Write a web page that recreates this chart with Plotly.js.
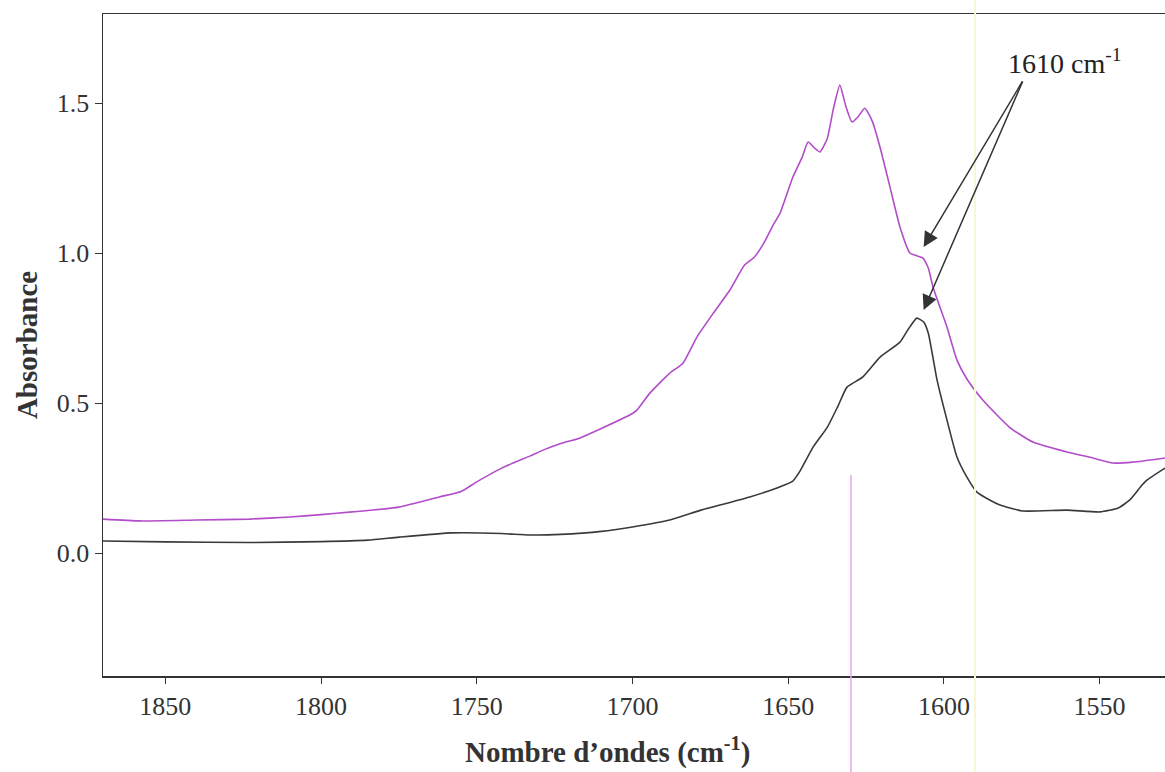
<!DOCTYPE html>
<html>
<head>
<meta charset="utf-8">
<script src="https://cdn.plot.ly/plotly-3.0.1.min.js"></script>
<style>html,body{margin:0;padding:0;background:#fff;}#chart{width:1165px;height:772px;}</style>
</head>
<body>
<div id="chart"></div>
<script>
// Wavenumbers (cm-1) and absorbance
const wnPurple = [1870, 1858, 1840, 1823, 1810, 1800, 1790, 1775, 1762, 1755, 1750, 1742, 1733, 1728.7, 1723, 1717, 1710, 1700, 1698.5, 1694.4, 1688, 1683.8, 1679.3, 1674, 1668.7, 1664, 1661, 1658, 1655, 1652.6, 1648.5, 1645.5, 1643.6, 1641.5, 1639.8, 1637.5, 1635.5, 1633.4, 1631.5, 1629.5, 1627.5, 1625.4, 1623, 1620.5, 1617.3, 1614.1, 1610.9, 1608.5, 1606.7, 1605, 1603.5, 1599, 1595.8, 1592.6, 1587.5, 1579, 1571.4, 1560.5, 1552.2, 1545.8, 1539.3, 1529];
const absPurple = [0.113, 0.107, 0.110, 0.113, 0.120, 0.128, 0.137, 0.153, 0.187, 0.205, 0.237, 0.283, 0.323, 0.343, 0.365, 0.383, 0.415, 0.465, 0.477, 0.533, 0.600, 0.633, 0.720, 0.800, 0.877, 0.960, 0.985, 1.030, 1.090, 1.133, 1.253, 1.320, 1.370, 1.350, 1.337, 1.380, 1.480, 1.560, 1.490, 1.437, 1.455, 1.483, 1.440, 1.353, 1.220, 1.087, 1.000, 0.990, 0.983, 0.950, 0.887, 0.753, 0.643, 0.580, 0.510, 0.420, 0.370, 0.337, 0.317, 0.300, 0.303, 0.317];

const wnBlack = [1870, 1850, 1823, 1800, 1785, 1775, 1758, 1742, 1733, 1723, 1710, 1700, 1688, 1678, 1670, 1662.3, 1653.6, 1648.5, 1646.2, 1642, 1637.4, 1634, 1631.1, 1626, 1620.5, 1614.1, 1611.5, 1608.7, 1606.5, 1605, 1602.2, 1599, 1595.8, 1592.6, 1589.4, 1585, 1582, 1574.6, 1560.5, 1549.9, 1544, 1540.3, 1536.5, 1534.8, 1529];
const absBlack = [0.040, 0.037, 0.035, 0.038, 0.043, 0.053, 0.067, 0.065, 0.060, 0.062, 0.072, 0.087, 0.110, 0.143, 0.165, 0.187, 0.217, 0.240, 0.273, 0.353, 0.420, 0.490, 0.553, 0.587, 0.653, 0.703, 0.745, 0.783, 0.770, 0.733, 0.577, 0.443, 0.320, 0.253, 0.203, 0.175, 0.160, 0.140, 0.143, 0.137, 0.150, 0.177, 0.225, 0.243, 0.283];

const xTicks = [1850, 1800, 1750, 1700, 1650, 1600, 1550];
const yTicks = [0.0, 0.5, 1.0, 1.5];
const peakLabel = '1610 cm<sup>-1</sup>';
const xTitle = 'Nombre d’ondes (cm<sup>-1</sup>)';
const yTitle = 'Absorbance';
const peakWn = 1606.5;
const peakAbsPurple = 1.02;
const peakAbsBlack = 0.81;

const serif = 'Liberation Serif, Times New Roman, serif';

const traces = [
  {x: wnPurple, y: absPurple, type: 'scatter', mode: 'lines', line: {color: '#b24cc8', width: 1.6, shape: 'spline', smoothing: 0.5}, hoverinfo: 'x+y', showlegend: false},
  {x: wnBlack, y: absBlack, type: 'scatter', mode: 'lines', line: {color: '#3a3a3a', width: 1.6, shape: 'spline', smoothing: 0.5}, hoverinfo: 'x+y', showlegend: false}
];

const layout = {
  width: 1165, height: 772,
  margin: {l: 103, r: 0, t: 14, b: 96},
  paper_bgcolor: '#ffffff', plot_bgcolor: '#ffffff',
  font: {family: serif, color: '#333333', size: 26},
  xaxis: {
    range: [1870, 1529], tickvals: xTicks, ticks: 'outside', ticklen: 6, tickcolor: '#333',
    showline: true, linecolor: '#333', linewidth: 1.5, mirror: true, showgrid: false, zeroline: false,
    tickfont: {family: serif, size: 26, color: '#333'}
  },
  yaxis: {
    range: [-0.41, 1.797], tickvals: yTicks, tickformat: '.1f', ticks: 'outside', ticklen: 7, tickcolor: '#333',
    showline: true, linecolor: '#333', linewidth: 1.5, showgrid: false, zeroline: false,
    tickfont: {family: serif, size: 26, color: '#333'},
    title: {text: yTitle, font: {family: serif, size: 29, color: '#333', weight: 'bold'}, standoff: 10}
  },
  annotations: [
    {x: 0.4755, y: -0.113, xref: 'paper', yref: 'paper', xanchor: 'center', yanchor: 'middle', text: xTitle, showarrow: false, font: {family: serif, size: 29, color: '#333', weight: 'bold'}},
    {x: 1561, y: 1.64, xref: 'x', yref: 'y', text: peakLabel, showarrow: false, font: {family: serif, size: 28, color: '#222'}},
    {x: peakWn, y: peakAbsPurple, xref: 'x', yref: 'y', ax: 1574.5, ay: 1.577, axref: 'x', ayref: 'y', text: '', showarrow: true, arrowhead: 2, arrowsize: 2, arrowwidth: 1.5, arrowcolor: '#333'},
    {x: peakWn, y: peakAbsBlack, xref: 'x', yref: 'y', ax: 1574.5, ay: 1.577, axref: 'x', ayref: 'y', text: '', showarrow: true, arrowhead: 2, arrowsize: 2, arrowwidth: 1.5, arrowcolor: '#333'}
  ],
  shapes: [
    {type: 'line', xref: 'paper', yref: 'paper', x0: 0.7043, x1: 0.7043, y0: 0.3036, y1: -0.15, line: {color: '#e3a8e6', width: 1.5}},
    {type: 'line', xref: 'paper', yref: 'paper', x0: 0.8211, x1: 0.8211, y0: 1.03, y1: -0.15, line: {color: '#f6f6d8', width: 2}}
  ]
};

Plotly.newPlot('chart', traces, layout, {staticPlot: true, displayModeBar: false});
</script>
</body>
</html>
